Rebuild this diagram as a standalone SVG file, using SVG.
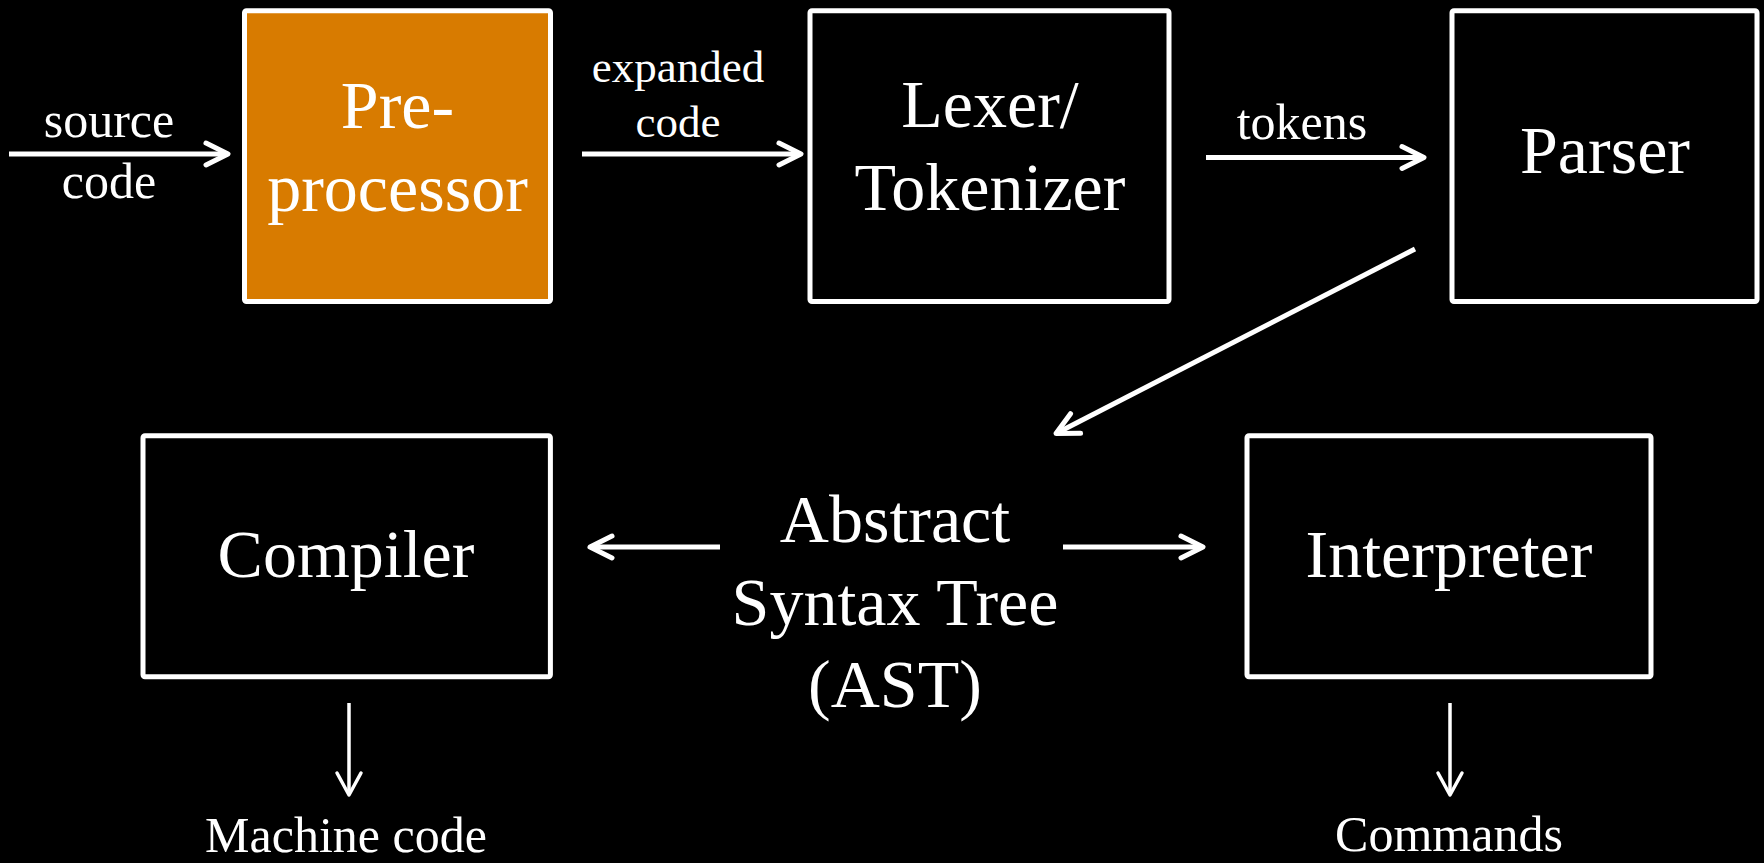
<svg xmlns="http://www.w3.org/2000/svg" width="1764" height="863" viewBox="0 0 1764 863">
<defs>
<style>
.box{fill:#000;stroke:#fff;stroke-width:5;}
.orange{fill:#D87B00;}
.t{font-family:"Liberation Serif","Times New Roman",serif;fill:#fff;text-anchor:middle;}
.big{font-size:68px;}
.mid{font-size:50px;}
.sm{font-size:45px;}
.c{fill:none;stroke:#fff;stroke-width:5;}
.thin{stroke-width:3.5;}
</style>
<marker id="ah" markerUnits="userSpaceOnUse" markerWidth="60" markerHeight="60" viewBox="-30 -30 60 60" refX="0" refY="0" orient="auto">
<path d="M-22,-11 L0,0 L-22,11" fill="none" stroke="#fff" stroke-width="5" stroke-linecap="round" stroke-linejoin="round"/>
</marker>
<marker id="ahs" markerUnits="userSpaceOnUse" markerWidth="60" markerHeight="60" viewBox="-30 -30 60 60" refX="0" refY="0" orient="auto">
<path d="M-22,-12 L0,0 L-22,12" fill="none" stroke="#fff" stroke-width="3.5" stroke-linecap="round" stroke-linejoin="round"/>
</marker>
</defs>
<rect x="0" y="0" width="1764" height="863" fill="#000"/>

<g id="connectors">
<line class="c" x1="9" y1="154" x2="228" y2="154" marker-end="url(#ah)"/>
<line class="c" x1="582" y1="154" x2="801" y2="154" marker-end="url(#ah)"/>
<line class="c" x1="1206" y1="157.5" x2="1424" y2="157.5" marker-end="url(#ah)"/>
<line class="c" x1="1415" y1="249" x2="1056" y2="433.5" marker-end="url(#ah)"/>
<line class="c" x1="720" y1="547" x2="590" y2="547" marker-end="url(#ah)"/>
<line class="c" x1="1063" y1="547" x2="1203" y2="547" marker-end="url(#ah)"/>
<line class="c thin" x1="349" y1="703" x2="349" y2="795" marker-end="url(#ahs)"/>
<line class="c thin" x1="1450" y1="703" x2="1450" y2="795" marker-end="url(#ahs)"/>
</g>

<g id="label-source-code">
<text class="t mid" x="109" y="137">source</text>
<text class="t mid" x="109" y="198">code</text>
</g>
<g id="label-expanded-code">
<text class="t sm" x="678" y="82">expanded</text>
<text class="t sm" x="678" y="137">code</text>
</g>
<g id="label-tokens">
<text class="t mid" x="1302" y="139">tokens</text>
</g>

<g id="preprocessor">
<rect class="box orange" x="244.5" y="10.8" width="306" height="290.7" rx="2"/>
<text class="t big" x="397.5" y="128">Pre-</text>
<text class="t big" x="397.5" y="210.5">processor</text>
</g>

<g id="lexer">
<rect class="box" x="810" y="10.8" width="359" height="290.7" rx="2"/>
<text class="t big" x="990" y="127">Lexer/</text>
<text class="t big" x="990" y="210">Tokenizer</text>
</g>

<g id="parser">
<rect class="box" x="1452" y="10.8" width="305" height="290.7" rx="2"/>
<text class="t big" x="1605" y="173">Parser</text>
</g>

<g id="ast">
<text class="t big" x="895" y="542">Abstract</text>
<text class="t big" x="895" y="625">Syntax Tree</text>
<text class="t big" x="895" y="707">(AST)</text>
</g>

<g id="compiler">
<rect class="box" x="143" y="435.8" width="407.4" height="241" rx="2"/>
<text class="t big" x="346" y="576.5">Compiler</text>
</g>

<g id="interpreter">
<rect class="box" x="1247" y="435.8" width="404" height="241" rx="2"/>
<text class="t big" x="1449" y="576.5">Interpreter</text>
</g>

<g id="machine-code">
<text class="t mid" x="346" y="852">Machine code</text>
</g>
<g id="commands">
<text class="t mid" x="1449" y="851">Commands</text>
</g>
</svg>
